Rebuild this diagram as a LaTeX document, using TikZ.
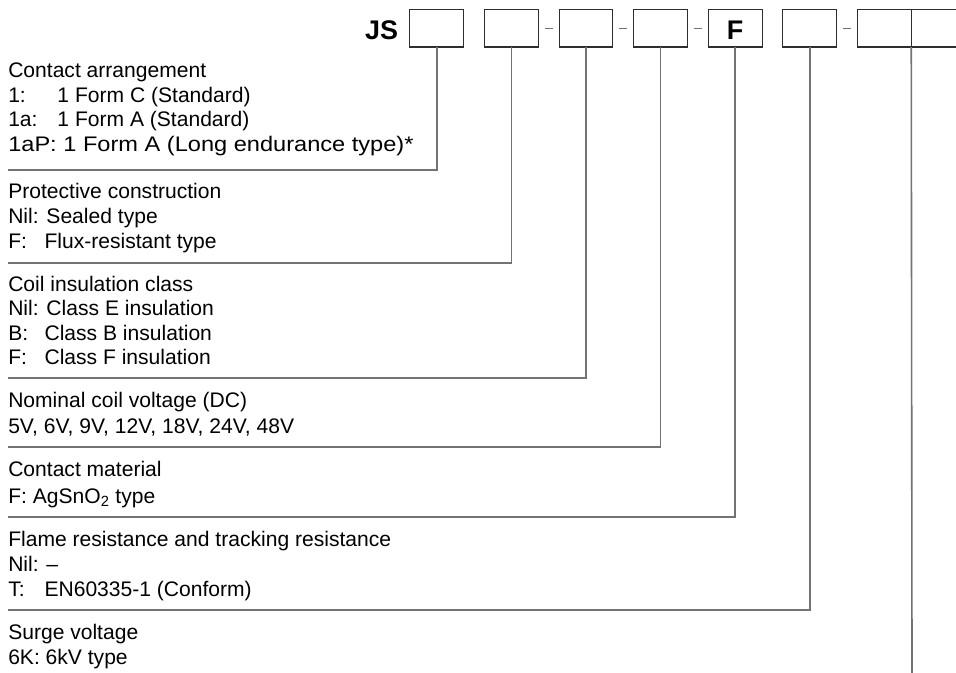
\documentclass[tikz,border=0pt]{standalone}
\usepackage{fontspec}
\usepackage{calc}
\usetikzlibrary{calc}
\setmainfont{Liberation Sans}
\newcommand\tabl[2]{\makebox[\widthof{#1}][l]{#2}}
\begin{document}
\begin{tikzpicture}[x=0.75pt,y=-0.75pt,
  codebox/.style={draw=black!82,line width=0.8pt,minimum width=40.3pt,minimum height=28.1pt,inner sep=0pt,outer sep=0pt},
  big/.style={font=\fontsize{20.2pt}{22pt}\selectfont\bfseries,inner sep=0pt,anchor=base},
  txt/.style={font=\fontsize{15.8pt}{18pt}\selectfont,inner sep=0pt,anchor=base west},
  conn/.style={draw=black!55,line width=1.2pt},
  dsh/.style={draw=black!55,line width=0.9pt}]
\useasboundingbox (0,0) rectangle (956,673);
\clip (0,0) rectangle (956,673);
% code boxes
\node[codebox] (b1) at (436.8,28.25) {};
\node[codebox] (b2) at (511.4,28.25) {};
\node[codebox] (b3) at (586.0,28.25) {};
\node[codebox] (b4) at (660.6,28.25) {};
\node[codebox] (b5) at (735.2,28.25) {};
\node[codebox] (b6) at (809.8,28.25) {};
\node[codebox] (b7) at (884.4,28.25) {};
\node[codebox] (b8) at (938.1,28.25) {};
\node[big] (js) at (381.5,39.5) {JS};
\node[big] (ff) at (735.2,39.5) {F};
% dashes
\draw[dsh] ($(b2.east)+(6.5,0)$) -- ($(b3.west)+(-6.5,0)$);
\draw[dsh] ($(b3.east)+(6.5,0)$) -- ($(b4.west)+(-6.5,0)$);
\draw[dsh] ($(b4.east)+(6.5,0)$) -- ($(b5.west)+(-6.5,0)$);
\draw[dsh] ($(b6.east)+(6.5,0)$) -- ($(b7.west)+(-6.5,0)$);
% separator end points
\coordinate (e1) at (8,170);
\coordinate (e2) at (8,263);
\coordinate (e3) at (8,378);
\coordinate (e4) at (8,447);
\coordinate (e5) at (8,517);
\coordinate (e6) at (8,610);
\coordinate (e7) at (912.0,673);
\draw[conn] (b1.south) |- (e1);
\draw[conn] (b2.south) |- (e2);
\draw[conn] (b3.south) |- (e3);
\draw[conn] (b4.south) |- (e4);
\draw[conn] (b5.south) |- (e5);
\draw[conn] (b6.south) |- (e6);
\draw[conn] (b7.south east) -- (e7);
% group 1
\node[txt] (t11) at (8,78) {Contact arrangement};
\node[txt] (t12) at (8,102.5) {\tabl{1aP:\ }{1:}1 Form C (Standard)};
\node[txt] (t13) at (8,127) {\tabl{1aP:\ }{1a:}1 Form A (Standard)};
\node[txt] (t14) at (8,151.5) {\scalebox{1.12}[1]{1aP: 1 Form A (Long endurance type)*}};
% group 2
\node[txt] (t21) at (8,199) {Protective construction};
\node[txt] (t22) at (8,224) {Nil: Sealed type};
\node[txt] (t23) at (8,249) {\tabl{Nil:\ }{F:}Flux-resistant type};
% group 3
\node[txt] (t31) at (8,292) {Coil insulation class};
\node[txt] (t32) at (8,316) {Nil: Class E insulation};
\node[txt] (t33) at (8,340) {\tabl{Nil:\ }{B:}Class B insulation};
\node[txt] (t34) at (8,364) {\tabl{Nil:\ }{F:}Class F insulation};
% group 4
\node[txt] (t41) at (8,407) {Nominal coil voltage (DC)};
\node[txt] (t42) at (8,433) {5V, 6V, 9V, 12V, 18V, 24V, 48V};
% group 5
\node[txt] (t51) at (8,476) {Contact material};
\node[txt] (t52) at (8,503) {F: AgSnO\textsubscript{2} type};
% group 6
\node[txt] (t61) at (8,546) {Flame resistance and tracking resistance};
\node[txt] (t62) at (8,571) {Nil: \textendash};
\node[txt] (t63) at (8,596) {\tabl{Nil:\ }{T:}EN60335-1 (Conform)};
% group 7
\node[txt] (t71) at (8,639) {Surge voltage};
\node[txt] (t72) at (8,664) {6K: 6kV type};
\end{tikzpicture}
\end{document}
